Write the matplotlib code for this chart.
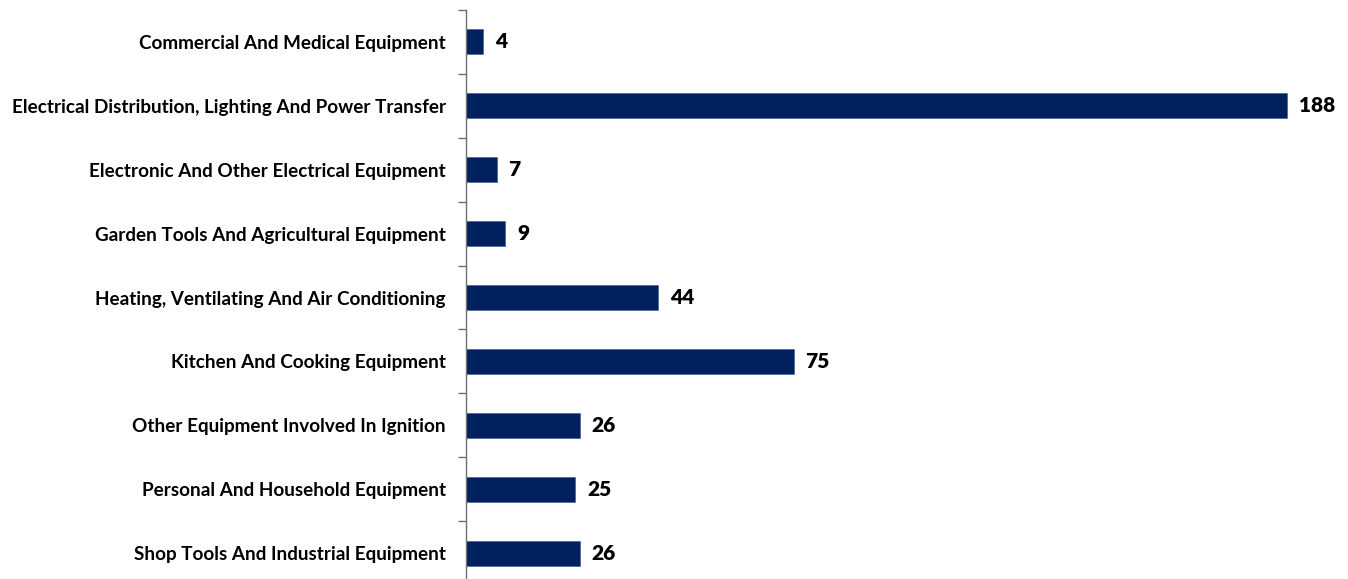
import matplotlib
matplotlib.use("Agg")
import matplotlib.pyplot as plt
import numpy as np

categories = [
    "Commercial And Medical Equipment",
    "Electrical Distribution, Lighting And Power Transfer",
    "Electronic And Other Electrical Equipment",
    "Garden Tools And Agricultural Equipment",
    "Heating, Ventilating And Air Conditioning",
    "Kitchen And Cooking Equipment",
    "Other Equipment Involved In Ignition",
    "Personal And Household Equipment",
    "Shop Tools And Industrial Equipment",
]
values = [4, 188, 7, 9, 44, 75, 26, 25, 26]

W, H = 1348, 579
fig = plt.figure(figsize=(W / 100, H / 100), dpi=100)
ax = fig.add_axes([466 / W, 1 - 585 / H, (200 * 4.367) / W, 575 / H])

y = np.arange(len(categories))
ax.barh(y, values, height=0.39, color="#002060", edgecolor="#3a5a8a", linewidth=0.4)

ax.set_xlim(0, 200)
ax.set_ylim(len(categories) - 0.5, -0.5)

for s in ["top", "right", "bottom"]:
    ax.spines[s].set_visible(False)
ax.spines["left"].set_color("#707070")
ax.spines["left"].set_linewidth(1.0)

ax.set_xticks([])
ax.set_yticks(y)
ax.set_yticklabels(categories, fontsize=13.6, fontweight="bold", family="Lato")
ax.tick_params(axis="y", which="major", length=0, pad=14.5)
ax.set_yticks(np.arange(-0.5, len(categories), 1), minor=True)
ax.tick_params(axis="y", which="minor", length=6, width=1, color="#707070")

for yi, v in zip(y, values):
    ax.annotate(str(v), (v, yi), xytext=(8.5, 0), textcoords="offset points",
                va="center", ha="left", fontsize=15, fontweight="heavy", family="Lato")

fig.savefig("out.png", dpi=100)
